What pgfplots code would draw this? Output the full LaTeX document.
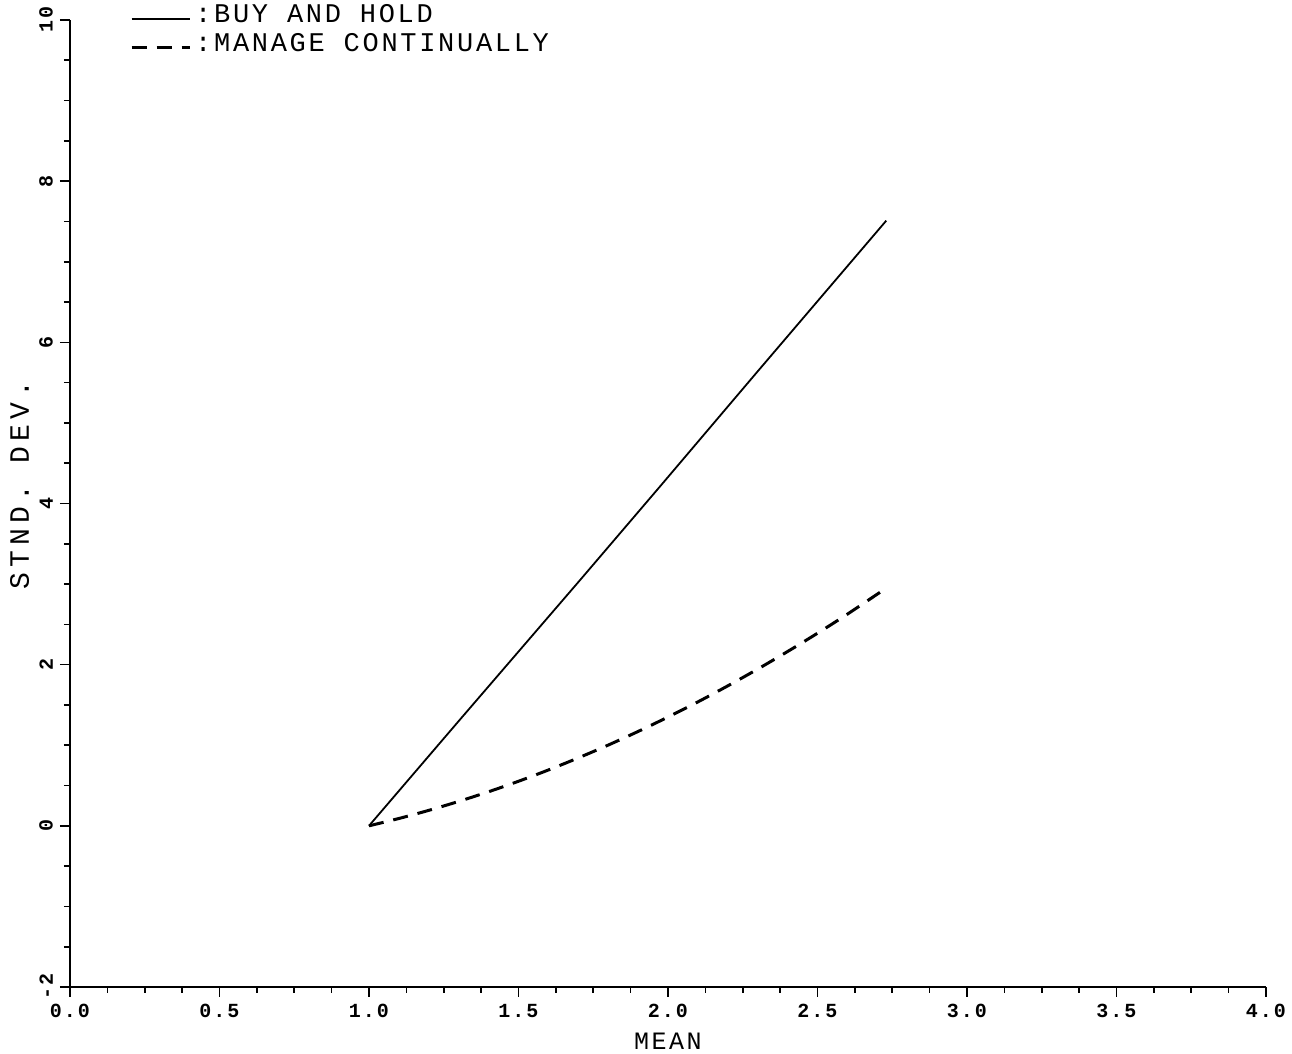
\documentclass[border=0pt]{standalone}
\usepackage{fontspec}
\setmainfont{Liberation Mono}
\usepackage{pgfplots}
\pgfplotsset{compat=1.18}
\newfontfamily\plotfont[LetterSpace=10]{Liberation Mono}
\newfontfamily\ylabfont[LetterSpace=18]{Liberation Mono}
\begin{document}
\begin{tikzpicture}
\begin{axis}[
  at={(0,0)}, anchor=south west,
  scale only axis,
  width=598pt, height=483.5pt,
  xmin=0, xmax=4, ymin=-2, ymax=10,
  axis lines*=left,
  axis line style={line width=0.8pt},
  xtick={0,0.5,...,4}, ytick={-2,0,2,4,6,8,10},
  minor x tick num=3, minor y tick num=3,
  tick align=outside,
  major tick length=5pt, minor tick length=3pt,
  tick style={black, line width=0.8pt},
  xticklabel style={/pgf/number format/fixed,/pgf/number format/precision=1,/pgf/number format/fixed zerofill, font=\fontsize{10}{10}\selectfont\bfseries\plotfont},
  yticklabel style={rotate=90, anchor=south, font=\fontsize{10}{10}\selectfont\bfseries\plotfont},
  /pgf/number format/assume math mode=true,
  xlabel={MEAN}, ylabel={STND. DEV.},
  xlabel style={font=\fontsize{12.5}{12.5}\selectfont\plotfont, yshift=-1pt},
  ylabel style={font=\fontsize{14}{14}\selectfont\ylabfont, at={(axis description cs:-0.042,0.519)}, anchor=center},
  clip=false,
  legend style={at={(0.05,1)}, anchor=north west, yshift=10pt, draw=none, fill=none,
    font=\fontsize{13.5}{13.5}\selectfont\plotfont, inner sep=0pt, row sep=0pt,
    /tikz/every even column/.append style={column sep=0pt}},
  legend cell align=left,
  legend image code/.code={\draw[#1] (0pt,-2pt) -- (29pt,-2pt);},
]
\addplot[black, line width=0.9pt] coordinates {
(1.0,0) (1.3,1.30) (1.706,3.05) (1.973,4.21) (2.3,5.64) (2.73,7.51)
};
\addlegendentry{:BUY AND HOLD}
\addplot[black, line width=1.5pt, dash pattern=on 7.5pt off 5pt, smooth] coordinates {
(1.0,0) (1.1,0.091) (1.2,0.192) (1.3,0.303) (1.4,0.423) (1.5,0.553) (1.6,0.693)
(1.7,0.843) (1.8,1.002) (1.9,1.171) (2.0,1.35) (2.1,1.538) (2.2,1.737)
(2.3,1.945) (2.4,2.163) (2.5,2.390) (2.6,2.627) (2.73,2.95)
};
\addlegendentry{:MANAGE CONTINUALLY}
\end{axis}
\pgfresetboundingbox
\path (-35pt,-33.5pt) rectangle (611pt,493.5pt);
\end{tikzpicture}
\end{document}
